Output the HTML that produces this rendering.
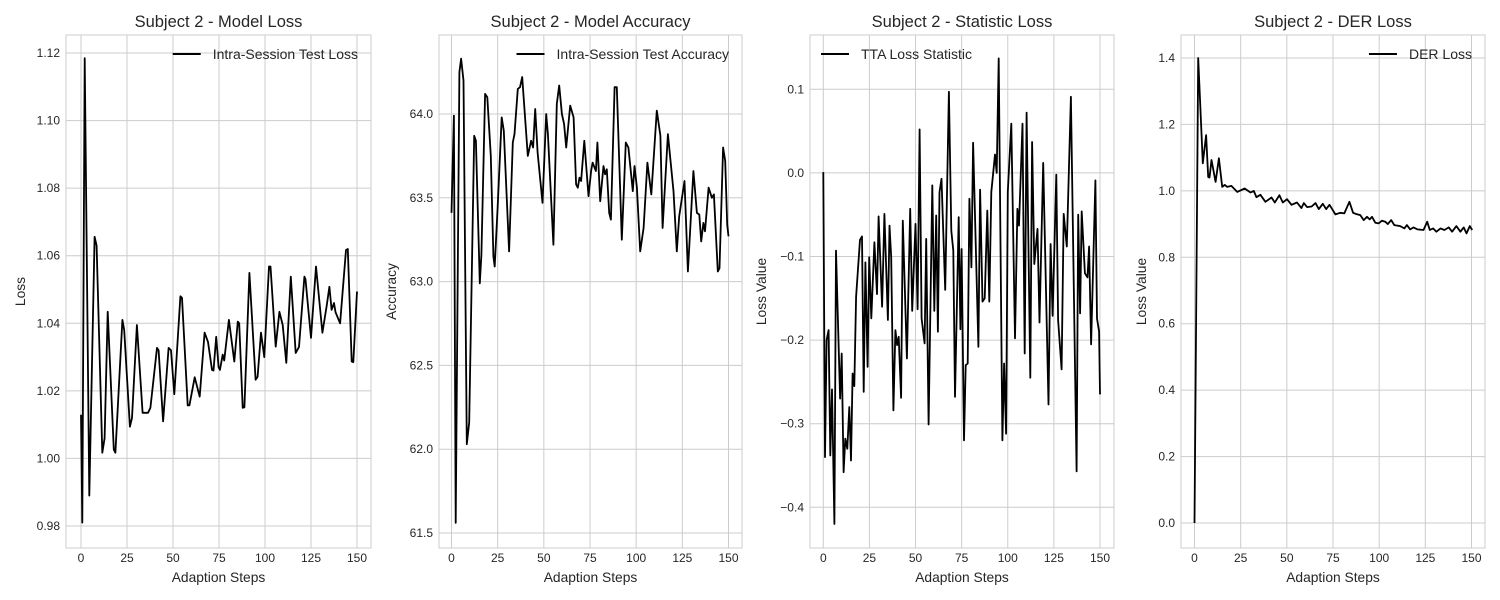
<!DOCTYPE html>
<html><head><meta charset="utf-8"><style>
html,body{margin:0;padding:0;background:#fff;}
svg{display:block;font-family:"Liberation Sans",sans-serif;}
</style></head><body>
<svg id="fig" width="1500" height="600" viewBox="0 0 1500 600" xmlns="http://www.w3.org/2000/svg"></svg>
<script>
const xTicks=[0,25,50,75,100,125,150];
const lossSteps=[0,0.7,2,4.5,7.4,8.5,11.6,12.8,14.5,17.8,18.7,22.5,23.5,26.6,27.7,30.4,33.5,36.4,37.7,41.3,42.2,44.6,47.6,48.9,50.7,54,54.9,58,58.9,61.8,64.5,67.2,69,71.2,72,73.5,74.8,75.5,77,77.8,80.4,83.3,85.2,86,87.9,88.8,91.5,94.9,96,97.8,99.6,102.2,103,105.8,107.8,109.6,111.6,114,116.7,118.5,121.4,122,125,127.7,131.2,133.5,135,136.2,137.5,138.3,140.8,144,145,147.1,148,150];
const lossVals=[1.0129,0.981,1.1185,0.989,1.0656,1.063,1.0017,1.006,1.0434,1.0026,1.0017,1.041,1.038,1.0094,1.012,1.0395,1.0135,1.0135,1.015,1.0327,1.032,1.011,1.0327,1.032,1.019,1.048,1.0475,1.0157,1.0157,1.024,1.0183,1.0372,1.0345,1.0262,1.026,1.036,1.027,1.0262,1.0307,1.029,1.041,1.0287,1.0405,1.040,1.015,1.0151,1.0549,1.0233,1.0242,1.0372,1.030,1.0568,1.0568,1.0331,1.0434,1.0395,1.0283,1.0538,1.0312,1.033,1.0538,1.053,1.0357,1.0568,1.0372,1.045,1.0508,1.044,1.046,1.0433,1.040,1.0617,1.062,1.0287,1.0285,1.0494];
const accSteps=[0,1.3,2.3,4.3,5.2,6.5,8.3,9.6,12.3,13.2,15.3,16.2,18.2,19.4,21.3,22.7,23.4,25,27.2,28.3,31.2,33.2,34.1,35.9,37.1,38.3,41.3,43.1,44.2,45.3,46.6,49.3,51.3,52.2,55.2,57,58.3,59.8,61,62.1,64.3,66.1,67.5,68.4,69.3,70.2,71.9,74.2,75.6,76.4,78.2,79,80.5,82.3,83.2,84.1,85.4,86.3,88.3,89.5,92.2,94.4,95.8,98.2,99.1,100.4,102.2,104,106.1,108.2,111.2,113.1,114.3,117.2,120.2,122,123.3,126.2,128,131,132.9,134.2,135.2,136.4,137.3,139.2,141,142.1,144.2,145.1,147.1,148.2,149.3,150];
const accVals=[63.41,63.99,61.56,64.25,64.33,64.2,62.03,62.16,63.87,63.84,62.99,63.16,64.12,64.1,63.75,63.15,63.09,63.45,63.98,63.9,63.18,63.83,63.88,64.15,64.16,64.22,63.75,63.84,63.8,64.03,63.77,63.47,64.0,63.88,63.22,64.06,64.17,64.0,63.94,63.8,64.05,63.98,63.58,63.56,63.62,63.6,63.84,63.51,63.66,63.71,63.66,63.83,63.48,63.69,63.64,63.67,63.41,63.37,64.16,64.16,63.25,63.83,63.8,63.54,63.69,63.56,63.18,63.32,63.71,63.52,64.02,63.87,63.32,63.88,63.54,63.18,63.39,63.6,63.06,63.66,63.41,63.4,63.24,63.35,63.3,63.56,63.5,63.52,63.06,63.08,63.8,63.72,63.34,63.27];
const ttaSteps=[0,0.9,1.8,2.9,3.8,4.7,6,6.9,9.1,10,11,11.9,13,14.1,15,15.9,16.8,17.8,19.9,21,21.9,22.8,24,24.9,26,27.7,29.1,30,31.9,33.1,35,35.9,36.8,38,39.1,40,40.9,42.2,43.1,45.3,47.1,48.2,50,51.1,52.2,53.3,54.9,55.8,57.1,59.1,60.2,61.2,62.1,63,64.1,66.1,68.1,69.4,70.5,71.4,73.4,74.3,75,76.3,77.2,78.3,79.2,80.3,81.2,84.1,85,86.3,87.5,88.9,90,91.1,93.1,94,95.1,97.1,98,99.1,100,101.9,103.9,105.2,106.1,108,109.2,110.2,112.2,113.2,114.4,116.1,117.2,119.2,122.1,123.2,124.3,126.3,127.3,129.2,130.3,132,134.2,137.3,138.2,139.2,140.1,141.8,143.2,144.1,145.2,147.5,148.4,149.5,150];
const ttaVals=[0.001,-0.34,-0.2,-0.188,-0.338,-0.259,-0.42,-0.093,-0.27,-0.216,-0.358,-0.318,-0.33,-0.28,-0.344,-0.24,-0.255,-0.148,-0.08,-0.076,-0.262,-0.107,-0.232,-0.101,-0.174,-0.083,-0.145,-0.052,-0.16,-0.049,-0.176,-0.063,-0.101,-0.284,-0.188,-0.206,-0.196,-0.269,-0.057,-0.222,-0.043,-0.165,-0.061,-0.163,0.052,-0.174,-0.204,-0.079,-0.301,-0.015,-0.165,-0.051,-0.19,-0.023,-0.007,-0.14,0.097,-0.069,-0.093,-0.268,-0.053,-0.187,-0.091,-0.32,-0.23,-0.228,-0.031,-0.113,0.036,-0.208,-0.02,-0.154,-0.15,-0.045,-0.154,-0.023,0.022,0.0,0.137,-0.32,-0.228,-0.312,-0.023,0.059,-0.198,-0.043,-0.063,0.059,-0.216,0.072,-0.245,0.037,-0.109,-0.067,-0.179,0.012,-0.277,-0.085,-0.171,-0.002,-0.176,-0.235,-0.049,-0.088,0.091,-0.357,-0.05,-0.168,-0.046,-0.12,-0.125,-0.088,-0.205,-0.009,-0.174,-0.19,-0.265];
const derSteps=[0,2,4.5,6.3,7.4,8.1,9.2,11.4,13.2,15,16.4,17.7,20,23.1,27.2,30.3,32.1,33.5,35.7,38.4,41.7,43.5,46,47.8,50.1,52.5,55.5,57.9,59.2,61,63.4,65.5,67.3,69.5,71.3,73.1,76.3,78.9,81.1,83.9,85.9,87.7,89.8,91.6,93.4,94.9,96.1,97.9,99.7,101.5,103.3,104.7,106.5,108.2,111.4,113.6,115,116.8,118.6,120.8,124,126,127.4,129.2,131,133.2,135.3,137.7,139.5,141.8,144,145.8,147.3,149.1,150.4];
const derVals=[0.0,1.4,1.083,1.168,1.042,1.04,1.093,1.027,1.098,1.012,1.018,1.012,1.015,0.997,1.007,0.995,1.0,0.981,0.988,0.967,0.98,0.965,0.987,0.965,0.975,0.958,0.965,0.948,0.963,0.951,0.953,0.963,0.945,0.961,0.945,0.958,0.929,0.934,0.932,0.967,0.934,0.93,0.927,0.912,0.922,0.914,0.922,0.904,0.902,0.91,0.907,0.9,0.912,0.897,0.894,0.887,0.897,0.884,0.89,0.884,0.882,0.907,0.882,0.887,0.877,0.887,0.882,0.89,0.877,0.894,0.877,0.89,0.872,0.894,0.882];
const lossTicks=[0.98,1.00,1.02,1.04,1.06,1.08,1.10,1.12];
const accTicks=[61.5,62.0,62.5,63.0,63.5,64.0];
const ttaTicks=[-0.4,-0.3,-0.2,-0.1,0.0,0.1];
const derTicks=[0.0,0.2,0.4,0.6,0.8,1.0,1.2,1.4];

const NS='http://www.w3.org/2000/svg';
const fig=document.getElementById('fig');
function mk(tag,attrs,parent){const e=document.createElementNS(NS,tag);for(const k in attrs)e.setAttribute(k,attrs[k]);(parent||fig).appendChild(e);return e;}

const panels=[
 {key:'loss',title:'Subject 2 - Model Loss',ylab:'Loss',ylabX:21,L:66,R:371,x0:81,x150:357,ya:1.12,yaPx:53,yb:0.98,ybPx:526,ticks:lossTicks,dec:2,steps:lossSteps,vals:lossVals,leg:'Intra-Session Test Loss',legRight:true},
 {key:'accuracy',title:'Subject 2 - Model Accuracy',ylab:'Accuracy',ylabX:392,L:439,R:742,x0:451.5,x150:728.5,ya:64.0,yaPx:114,yb:61.5,ybPx:533,ticks:accTicks,dec:1,steps:accSteps,vals:accVals,leg:'Intra-Session Test Accuracy',legRight:true},
 {key:'statistic',title:'Subject 2 - Statistic Loss',ylab:'Loss Value',ylabX:762,L:810,R:1114,x0:823.3,x150:1100,ya:0.1,yaPx:89.3,yb:-0.4,ybPx:507.3,ticks:ttaTicks,dec:1,steps:ttaSteps,vals:ttaVals,leg:'TTA Loss Statistic',legRight:false},
 {key:'der',title:'Subject 2 - DER Loss',ylab:'Loss Value',ylabX:1142,L:1181,R:1485,x0:1194.5,x150:1471.5,ya:1.4,yaPx:58,yb:0.0,ybPx:523,ticks:derTicks,dec:1,steps:derSteps,vals:derVals,leg:'DER Loss',legRight:true}
];
const T=35,B=548;
panels.forEach(p=>{
  const xs=v=>p.x0+(v/150)*(p.x150-p.x0);
  const ys=v=>p.yaPx+(p.ya-v)/(p.ya-p.yb)*(p.ybPx-p.yaPx);
  const g=mk('g',{});
  
  
  const grid=mk('g',{stroke:'#cccccc','stroke-width':1},g);
  
  
  xTicks.forEach(t=>{const X=xs(t);mk('line',{x1:X,x2:X,y1:T,y2:B},grid);
    const tx=mk('text',{x:X,y:B+14,'text-anchor':'middle','font-size':12,fill:'#262626'},g);tx.textContent=t;
    
    });
  p.ticks.forEach(t=>{const Y=ys(t);mk('line',{x1:p.L,x2:p.R,y1:Y,y2:Y},grid);
    const tx=mk('text',{x:p.L-6,y:Y+4,'text-anchor':'end','font-size':12,fill:'#262626'},g);tx.textContent=t.toFixed(p.dec).replace('-','\u2212');
    
    });
  const fr=mk('rect',{x:p.L,y:T,width:p.R-p.L,height:B-T,fill:'none',stroke:'#cccccc','stroke-width':1},g);
  
  
  const d=p.steps.map((s,i)=>(i?'L':'M')+xs(s).toFixed(1)+' '+ys(p.vals[i]).toFixed(1)).join(' ');
  const ln=mk('path',{d:d,fill:'none',stroke:'#000','stroke-width':1.8,'stroke-linejoin':'round'},g);
  
  
  const ti=mk('text',{x:(p.L+p.R)/2,y:27,'text-anchor':'middle','font-size':16.5,fill:'#262626'},g);ti.textContent=p.title;
  
  
  const xl=mk('text',{x:(p.L+p.R)/2,y:582,'text-anchor':'middle','font-size':13.8,fill:'#262626'},g);xl.textContent='Adaption Steps';
  
  
  const yl=mk('text',{x:p.ylabX+4,y:(T+B)/2,'text-anchor':'middle','font-size':13.8,fill:'#262626',transform:'rotate(-90 '+(p.ylabX+4)+' '+((T+B)/2)+')'},g);yl.textContent=p.ylab;
  
  
  const lg=mk('g',{},g);
  
  
  const lt=mk('text',{y:59,'font-size':14,fill:'#262626'},lg);lt.textContent=p.leg;
  let tx0;
  if(p.legRight){const w=lt.getComputedTextLength();tx0=p.R-13-w;}else{tx0=p.L+51;}
  lt.setAttribute('x',tx0);
  mk('line',{x1:tx0-40,x2:tx0-12,y1:54,y2:54,stroke:'#000','stroke-width':2},lg);
});
</script>
</body></html>
